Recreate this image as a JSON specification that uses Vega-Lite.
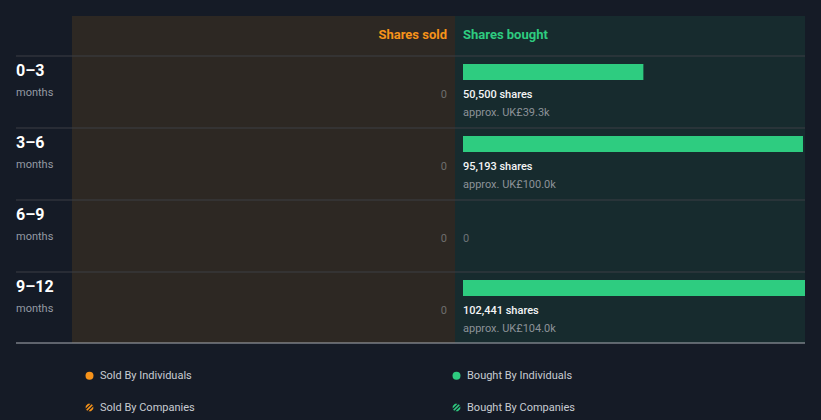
{
  "$schema": "https://vega.github.io/schema/vega-lite/v6.json",
  "width": 789,
  "height": 288,
  "autosize": {"type": "none"},
  "padding": {"left": 16, "top": 56, "right": 16, "bottom": 76},
  "background": "#151b26",
  "config": {"view": {"stroke": null}, "font": "Roboto", "text": {"font": "Roboto"}},
  "resolve": {"scale": {"y": "independent"}},
  "data": {"values": [
    {"period": "0–3", "bought": 50500, "sold": 0, "shares": "50,500 shares", "value": "approx. UK£39.3k"},
    {"period": "3–6", "bought": 95193, "sold": 0, "shares": "95,193 shares", "value": "approx. UK£100.0k"},
    {"period": "6–9", "bought": 0, "sold": 0, "shares": "", "value": ""},
    {"period": "9–12", "bought": 102441, "sold": 0, "shares": "102,441 shares", "value": "approx. UK£104.0k"}
  ]},
  "layer": [
    {
      "data": {"values": [
        {"cat": "Sold By Individuals"},
        {"cat": "Bought By Individuals"},
        {"cat": "Sold By Companies"},
        {"cat": "Bought By Companies"}
      ]},
      "mark": {"type": "point", "filled": true, "opacity": 0},
      "encoding": {
        "color": {
          "field": "cat", "type": "nominal",
          "scale": {"domain": ["Sold By Individuals", "Sold By Companies", "Bought By Individuals", "Bought By Companies"],
                    "range": ["#f7931a", "#f7931a", "#2ecc80", "#2ecc80"]},
          "legend": {
            "orient": "none", "legendX": 68, "legendY": 314, "columns": 2, "columnPadding": 256, "rowPadding": 20,
            "title": null, "padding": 0, "symbolType": "circle", "symbolSize": 64, "symbolOpacity": 1, "symbolStrokeWidth": 0,
            "labelColor": "#c8ccd2", "labelFontSize": 11, "labelFont": "Roboto", "labelOffset": 5,
            "encode": {"symbols": {"update": {"shape": {"signal": "indexof(datum.value, 'Companies') >= 0 ? 'M-0.841,0.541L0.541,-0.841L0.841,-0.541L-0.541,0.841Z M-0.929,-0.371L-0.371,-0.929L0.264,-0.965L-0.965,0.264Z M0.929,0.371L0.371,0.929L-0.264,0.965L0.965,-0.264Z' : 'circle'"}}}}
          }
        }
      }
    },
    {
      "data": {"values": [{}]},
      "mark": {"type": "rect", "fill": "#2d2823"},
      "encoding": {"x": {"value": 56}, "x2": {"value": 439}, "y": {"value": -40}, "y2": {"value": 287}}
    },
    {
      "data": {"values": [{}]},
      "mark": {"type": "rect", "fill": "#172b2e"},
      "encoding": {"x": {"value": 439}, "x2": {"value": 789}, "y": {"value": -40}, "y2": {"value": 287}}
    },
    {
      "mark": {"type": "rule", "stroke": "#3c3f44", "strokeWidth": 1},
      "encoding": {
        "y": {"field": "period", "type": "nominal", "bandPosition": 0, "axis": null,
              "scale": {"domain": ["0–3", "3–6", "6–9", "9–12"], "paddingInner": 0, "paddingOuter": 0}},
        "x": {"value": 0}, "x2": {"value": 789}
      }
    },
    {
      "data": {"values": [{}]},
      "mark": {"type": "rule", "stroke": "#a9adb3", "strokeWidth": 1},
      "encoding": {"x": {"value": 0}, "x2": {"value": 789}, "y": {"value": 287}}
    },
    {
      "data": {"values": [{}]},
      "mark": {"type": "text", "text": "Shares sold", "align": "right", "baseline": "middle", "fontSize": 13, "fontWeight": "bold", "fill": "#f7931a"},
      "encoding": {"x": {"value": 431}, "y": {"value": -21}}
    },
    {
      "data": {"values": [{}]},
      "mark": {"type": "text", "text": "Shares bought", "align": "left", "baseline": "middle", "fontSize": 13, "fontWeight": "bold", "fill": "#2ecc80"},
      "encoding": {"x": {"value": 447}, "y": {"value": -21}}
    },
    {
      "mark": {"type": "text", "align": "left", "baseline": "middle", "dy": -21, "fontSize": 16, "fontWeight": "bold", "fill": "#ffffff"},
      "encoding": {
        "y": {"field": "period", "type": "nominal", "axis": null,
              "scale": {"domain": ["0–3", "3–6", "6–9", "9–12"], "paddingInner": 0, "paddingOuter": 0}},
        "x": {"value": 0},
        "text": {"field": "period"}
      }
    },
    {
      "mark": {"type": "text", "text": "months", "align": "left", "baseline": "middle", "dy": 1, "fontSize": 11, "fill": "#949aa3"},
      "encoding": {
        "y": {"field": "period", "type": "nominal", "axis": null,
              "scale": {"domain": ["0–3", "3–6", "6–9", "9–12"], "paddingInner": 0, "paddingOuter": 0}},
        "x": {"value": 0}
      }
    },
    {
      "mark": {"type": "text", "align": "right", "baseline": "middle", "dy": 3, "fontSize": 11, "fill": "#6e6e6e"},
      "encoding": {
        "y": {"field": "period", "type": "nominal", "axis": null,
              "scale": {"domain": ["0–3", "3–6", "6–9", "9–12"], "paddingInner": 0, "paddingOuter": 0}},
        "x": {"value": 431},
        "text": {"field": "sold", "type": "quantitative"}
      }
    },
    {
      "transform": [{"filter": "datum.bought > 0"}],
      "mark": {"type": "bar", "fill": "#2ecc80", "height": 16, "yOffset": -20, "clip": true},
      "encoding": {
        "y": {"field": "period", "type": "nominal", "axis": null,
              "scale": {"domain": ["0–3", "3–6", "6–9", "9–12"], "paddingInner": 0, "paddingOuter": 0}},
        "x": {"field": "bought", "type": "quantitative", "axis": null, "scale": {"domain": [-125152, 95753], "nice": false}}
      }
    },
    {
      "transform": [{"filter": "datum.bought > 0"}],
      "mark": {"type": "text", "align": "left", "baseline": "middle", "dy": 3, "fontSize": 11, "fontWeight": 500, "fill": "#f4f5f6"},
      "encoding": {
        "y": {"field": "period", "type": "nominal", "axis": null,
              "scale": {"domain": ["0–3", "3–6", "6–9", "9–12"], "paddingInner": 0, "paddingOuter": 0}},
        "x": {"value": 447},
        "text": {"field": "shares"}
      }
    },
    {
      "transform": [{"filter": "datum.bought > 0"}],
      "mark": {"type": "text", "align": "left", "baseline": "middle", "dy": 21, "fontSize": 11, "fill": "#8c9298"},
      "encoding": {
        "y": {"field": "period", "type": "nominal", "axis": null,
              "scale": {"domain": ["0–3", "3–6", "6–9", "9–12"], "paddingInner": 0, "paddingOuter": 0}},
        "x": {"value": 447},
        "text": {"field": "value"}
      }
    },
    {
      "transform": [{"filter": "datum.bought == 0"}],
      "mark": {"type": "text", "align": "left", "baseline": "middle", "dy": 3, "fontSize": 11, "fill": "#6e7378"},
      "encoding": {
        "y": {"field": "period", "type": "nominal", "axis": null,
              "scale": {"domain": ["0–3", "3–6", "6–9", "9–12"], "paddingInner": 0, "paddingOuter": 0}},
        "x": {"value": 447},
        "text": {"field": "bought", "type": "quantitative"}
      }
    }
  ]
}
